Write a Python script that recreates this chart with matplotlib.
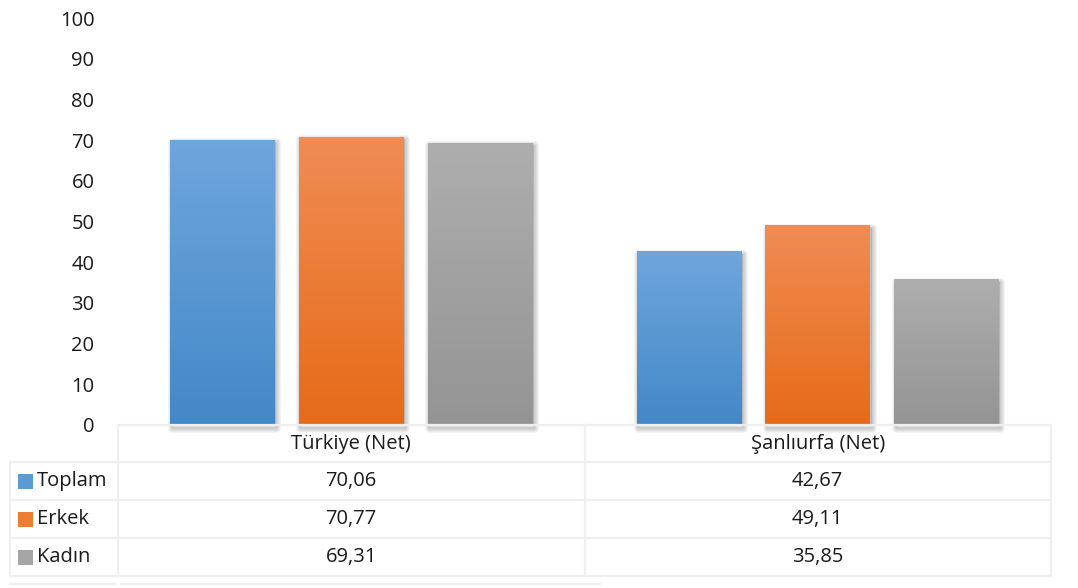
import numpy as np
import matplotlib
matplotlib.use("Agg")
import matplotlib.pyplot as plt
from matplotlib.patches import Rectangle
from matplotlib import transforms
from matplotlib.colors import to_rgb

categories = ["Türkiye (Net)", "Şanlıurfa (Net)"]
series_names = ["Toplam", "Erkek", "Kadın"]
toplam = [70.06, 42.67]
erkek = [70.77, 49.11]
kadin = [69.31, 35.85]
labels = {"Toplam": ["70,06", "42,67"], "Erkek": ["70,77", "49,11"], "Kadın": ["69,31", "35,85"]}
yticks = list(range(0, 101, 10))

series_values = [toplam, erkek, kadin]
grad_colors = [("#6fa6dc", "#4388c8"), ("#f08c54", "#e66b18"), ("#aeaeae", "#949494")]
key_colors = ["#5b9bd5", "#ed7d31", "#a5a5a5"]

plt.rcParams["font.family"] = ["Open Sans", "DejaVu Sans"]
W, H = 1078, 588
fig = plt.figure(figsize=(W / 100, H / 100), dpi=100)

def fx(px):
    return px / W

def fy(py):
    return 1 - py / H

ax_left, ax_right, ax_top, ax_bot = 118, 1051, 18, 425
ax = fig.add_axes([fx(ax_left), fy(ax_bot), fx(ax_right - ax_left), fy(ax_top) - fy(ax_bot)])
ax.set_xlim(-0.5, 1.5)
ax.set_ylim(0, 100)
for s in ax.spines.values():
    s.set_visible(False)
ax.set_xticks([])
ax.set_yticks(yticks)
ax.set_yticklabels([str(t) for t in yticks], fontsize=14.5, color="#1a1a1a")
ax.tick_params(axis="y", length=0, pad=17)

bw = 0.225
offs = [-0.276, 0.0, 0.276]
x = np.arange(len(categories))

def gradient_img(c_top, c_bot):
    t = np.linspace(0, 1, 256)[:, None]
    a = np.array(to_rgb(c_top))
    b = np.array(to_rgb(c_bot))
    img = a[None, None, :] * (1 - t[..., None]) + b[None, None, :] * t[..., None]
    return img

shadow_tr = transforms.offset_copy(ax.transData, fig=fig, x=1.5, y=-2.5, units="dots")
for vals, off, (ct, cb) in zip(series_values, offs, grad_colors):
    bars = ax.bar(x + off, vals, width=bw, color="none", zorder=3)
    for b in bars:
        x0, y0 = b.get_x(), b.get_y()
        w, h = b.get_width(), b.get_height()
        # soft drop shadow built from layered outlines
        for lw_px in [9, 7, 5, 3, 1.5]:
            r = Rectangle((x0, y0), w, h, transform=shadow_tr, facecolor="none",
                          edgecolor="#000000", linewidth=lw_px * 0.72, alpha=0.045,
                          joinstyle="round", zorder=1, clip_on=False)
            ax.add_patch(r)
        ax.add_patch(Rectangle((x0, y0), w, h, transform=shadow_tr, facecolor="#000000",
                               alpha=0.12, zorder=1.5, linewidth=0))
        im = ax.imshow(gradient_img(ct, cb), extent=[x0, x0 + w, y0, y0 + h],
                       aspect="auto", zorder=4, interpolation="bilinear")
        im.set_clip_path(b)
ax.set_xlim(-0.5, 1.5)
ax.set_ylim(0, 100)

# data table under the axes
grid_c = "#efefef"
tb = transforms.blended_transform_factory(ax.transData, fig.transFigure)
row_lines = [425, 462, 500, 538, 576]
tl, tsep, tright = 10, 118, 1051
def hline(py, x0, x1):
    fig.add_artist(plt.Line2D([fx(x0), fx(x1)], [fy(py), fy(py)], color=grid_c, lw=1.6))
def vline(px, y0, y1):
    fig.add_artist(plt.Line2D([fx(px), fx(px)], [fy(y0), fy(y1)], color=grid_c, lw=1.6))

hline(425, tsep, tright)
for py in row_lines[1:]:
    hline(py, tl, tright)
vline(tl, 462, 576)
vline(tsep, 425, 576)
vline(585, 425, 576)
vline(tright, 425, 576)
hline(584, tl, 115)
hline(584, 121, 600)

fs = 14.5
for i, c in enumerate(categories):
    fig.text(x[i], fy(444), c, transform=tb, ha="center", va="center", fontsize=fs, color="#1a1a1a")

centers = [481, 519, 557]
for r, name in enumerate(series_names):
    py = centers[r]
    fig.add_artist(Rectangle((fx(18), fy(py + 7.5)), fx(15), fy(py - 7.5) - fy(py + 7.5),
                             transform=fig.transFigure, facecolor=key_colors[r], edgecolor="none"))
    fig.text(fx(37), fy(py), name, ha="left", va="center", fontsize=fs, color="#1a1a1a")
    for i in range(len(categories)):
        fig.text(x[i], fy(py), labels[name][i], transform=tb, ha="center", va="center",
                 fontsize=fs, color="#1a1a1a")

fig.savefig("out.png", dpi=100)
